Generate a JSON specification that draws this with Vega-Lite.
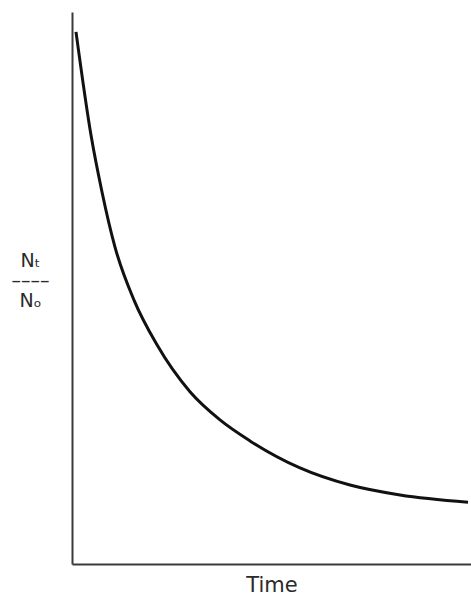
{
  "$schema": "https://vega.github.io/schema/vega-lite/v6.json",
  "autosize": "none",
  "width": 399,
  "height": 552,
  "padding": {"left": 72, "top": 12, "right": 0, "bottom": 35},
  "background": "white",
  "config": {
    "view": {"stroke": null},
    "font": "DejaVu Sans",
    "axis": {
      "grid": false,
      "ticks": false,
      "labels": false,
      "domainColor": "#3a3a3a",
      "domainWidth": 2,
      "titleFont": "DejaVu Sans",
      "titleFontWeight": "normal",
      "titleColor": "#2a2a2a"
    }
  },
  "data": {
    "values": [
      {"time": 1.0, "ratio": 96.4},
      {"time": 4.76, "ratio": 77.7},
      {"time": 7.52, "ratio": 67.4},
      {"time": 10.78, "ratio": 57.4},
      {"time": 15.54, "ratio": 47.8},
      {"time": 21.3, "ratio": 39.7},
      {"time": 29.57, "ratio": 31.2},
      {"time": 37.09, "ratio": 26.1},
      {"time": 44.61, "ratio": 22.3},
      {"time": 57.14, "ratio": 17.4},
      {"time": 69.67, "ratio": 14.3},
      {"time": 82.21, "ratio": 12.5},
      {"time": 99.25, "ratio": 11.2}
    ]
  },
  "mark": {"type": "line", "color": "#111111", "strokeWidth": 3, "interpolate": "monotone"},
  "encoding": {
    "x": {
      "field": "time",
      "type": "quantitative",
      "scale": {"domain": [0, 100], "nice": false},
      "axis": {"title": "Time", "titleFontSize": 21, "titlePadding": 10}
    },
    "y": {
      "field": "ratio",
      "type": "quantitative",
      "scale": {"domain": [0, 100], "nice": false},
      "axis": {
        "title": ["Nₜ", "––––", "Nₒ"],
        "titleFontSize": 19,
        "titleAngle": 0,
        "titleAlign": "center",
        "titleBaseline": "alphabetic",
        "titleLineHeight": 20,
        "titleX": -42,
        "titleY": 254
      }
    }
  }
}
